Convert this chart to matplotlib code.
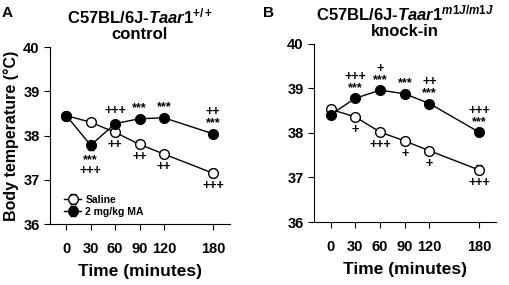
import matplotlib
matplotlib.use('Agg')
import matplotlib.pyplot as plt

plt.rcParams['font.family'] = ['Liberation Sans', 'DejaVu Sans']
plt.rcParams['font.weight'] = 'bold'
plt.rcParams['mathtext.fontset'] = 'custom'
plt.rcParams['mathtext.rm'] = 'Liberation Sans:bold'
plt.rcParams['mathtext.bf'] = 'Liberation Sans:bold'
plt.rcParams['mathtext.it'] = 'Liberation Sans:italic:bold'

# data
times = [0, 30, 60, 90, 120, 180]
wt_saline = [38.45, 38.30, 38.07, 37.80, 37.58, 37.15]
wt_saline_err = [0.04, 0.05, 0.05, 0.05, 0.05, 0.09]
wt_ma = [38.45, 37.78, 38.27, 38.38, 38.40, 38.04]
wt_ma_err = [0.04, 0.10, 0.06, 0.04, 0.04, 0.05]
ki_saline = [38.53, 38.36, 38.02, 37.82, 37.60, 37.17]
ki_saline_err = [0.04, 0.05, 0.05, 0.05, 0.05, 0.10]
ki_ma = [38.41, 38.78, 38.96, 38.88, 38.66, 38.02]
ki_ma_err = [0.05, 0.05, 0.04, 0.04, 0.05, 0.06]

# significance marks: (time index, series, side, lines top->bottom)
wt_marks = [(1, 'ma', 'below', ['***', '+++']),
            (2, 'ma', 'above', ['+++']),
            (3, 'ma', 'above', ['***']),
            (4, 'ma', 'above', ['***']),
            (5, 'ma', 'above', ['++', '***']),
            (2, 'sal', 'below', ['++']),
            (3, 'sal', 'below', ['++']),
            (4, 'sal', 'below', ['++']),
            (5, 'sal', 'below', ['+++'])]
ki_marks = [(1, 'ma', 'above', ['+++', '***']),
            (2, 'ma', 'above', ['+', '***']),
            (3, 'ma', 'above', ['***']),
            (4, 'ma', 'above', ['++', '***']),
            (5, 'ma', 'above', ['+++', '***']),
            (1, 'sal', 'below', ['+']),
            (2, 'sal', 'below', ['+++']),
            (3, 'sal', 'below', ['+']),
            (4, 'sal', 'below', ['+']),
            (5, 'sal', 'below', ['+++'])]

fig = plt.figure(figsize=(5.1, 2.85), dpi=100)
axA = fig.add_axes([0.098, 0.214, 0.353, 0.621])
axB = fig.add_axes([0.616, 0.221, 0.357, 0.625])


def draw(ax, sal, sal_err, ma, ma_err, marks, title, ylabel, legend):
    ax.errorbar(times, sal, yerr=sal_err, color='black', lw=1, marker='o',
                ms=7, mfc='white', mec='black', mew=1, capsize=2.5,
                elinewidth=1, label='Saline', zorder=3)
    ax.errorbar(times, ma, yerr=ma_err, color='black', lw=1, marker='o',
                ms=7, mfc='black', mec='black', capsize=2.5,
                elinewidth=1, label='2 mg/kg MA', zorder=4)
    for i, s, side, lines in marks:
        y = ma[i] if s == 'ma' else sal[i]
        txt = '\n'.join(lines)
        if side == 'above':
            off = 3.0 if '*' in lines[-1] else 5.0
            va = 'bottom'
        else:
            off = -(6.5 if '*' in lines[0] else 5.0)
            va = 'top'
        ax.annotate(txt, (times[i], y), xytext=(0, off),
                    textcoords='offset points', ha='center', va=va,
                    fontsize=9, fontweight='bold', linespacing=0.9)
    ax.set_xlim(-20, 201)
    ax.set_ylim(36, 40)
    ax.set_xticks(times)
    ax.set_yticks([36, 37, 38, 39, 40])
    ax.spines['top'].set_visible(False)
    ax.spines['right'].set_visible(False)
    ax.tick_params(axis='x', direction='out', length=4, pad=9,
                   labelsize=10.5)
    ax.tick_params(axis='y', direction='out', length=4, labelsize=10.5)
    for lab in ax.get_xticklabels() + ax.get_yticklabels():
        lab.set_fontweight('bold')
    ax.set_xlabel('Time (minutes)', fontsize=12.5, fontweight='bold',
                  labelpad=6)
    if ylabel:
        ax.set_ylabel('Body temperature (°C)', fontsize=11.5,
                      fontweight='bold', labelpad=3)
    ax.set_title(title, fontsize=12, fontweight='bold', pad=6,
                 linespacing=1.0)
    if legend:
        ax.legend(loc='lower left', bbox_to_anchor=(0.04, 0.0),
                  frameon=False, handlelength=1.6, handletextpad=0.4,
                  labelspacing=0.2, borderaxespad=0.3,
                  prop={'weight': 'bold', 'size': 7.5})


draw(axA, wt_saline, wt_saline_err, wt_ma, wt_ma_err, wt_marks,
     'C57BL/6J-$\\it{Taar1}^{+/+}$\ncontrol', True, True)
draw(axB, ki_saline, ki_saline_err, ki_ma, ki_ma_err, ki_marks,
     'C57BL/6J-$\\it{Taar1}^{m1J/m1J}$\nknock-in', False, False)

fig.text(0.004, 0.955, 'A', fontsize=11, fontweight='bold', va='center')
fig.text(0.516, 0.955, 'B', fontsize=11, fontweight='bold', va='center')

fig.savefig('out.png', dpi=100)
